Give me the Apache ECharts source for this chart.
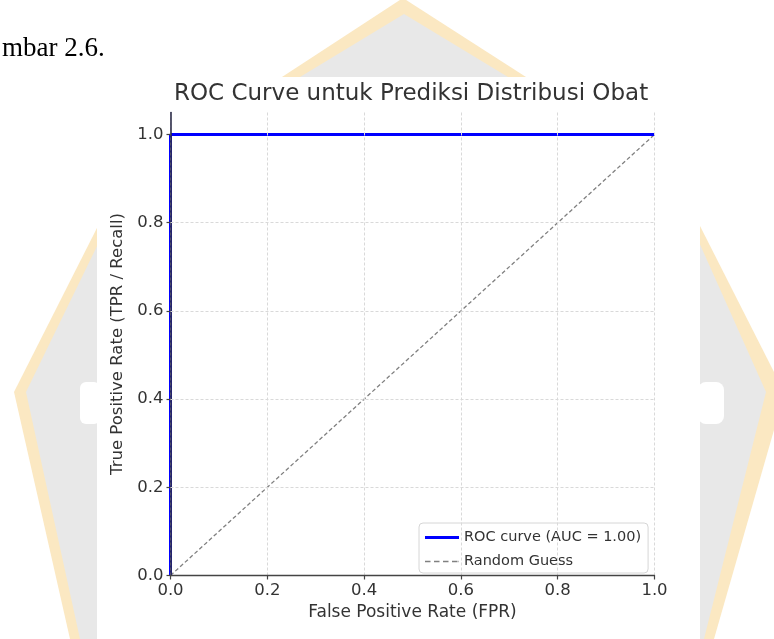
<!DOCTYPE html>
<html>
<head>
<meta charset="utf-8">
<title>ROC Curve</title>
<script src="https://cdn.jsdelivr.net/npm/echarts@6/dist/echarts.min.js"></script>
<style>
  html, body { margin: 0; padding: 0; background: #fff; }
  #chart { width: 774px; height: 639px; }
</style>
</head>
<body>
<div id="chart"></div>
<script>
// ROC curve points (AUC = 1.00)
const fprRoc = [0, 0, 1]
const tprRoc = [0, 1, 1]
// diagonal baseline
const fprRandom = [0, 1]
const tprRandom = [0, 1]
const yTicks = [0, 0.2, 0.4, 0.6, 0.8, 1.0]
const legendNames = ['ROC curve (AUC = 1.00)', 'Random Guess']

const font = 'DejaVu Sans'
const chart = echarts.init(document.getElementById('chart'), null, { renderer: 'canvas' })

// faint watermark of the document page behind the figure
const orange = '#fbe8c2'
const grey = '#e8e8e8'
const watermark = [
  { type: 'polygon', z: -20, shape: { points: [[403, -2], [282, 77], [526, 77]] }, style: { fill: orange } },
  { type: 'polygon', z: -19, shape: { points: [[404, 14], [300, 77], [508, 77]] }, style: { fill: grey } },
  { type: 'polygon', z: -20, shape: { points: [[100, 222], [14, 392], [70, 639], [100, 639]] }, style: { fill: orange } },
  { type: 'polygon', z: -19, shape: { points: [[100, 240], [26, 392], [80, 639], [100, 639]] }, style: { fill: grey } },
  { type: 'rect', z: -18, shape: { x: 80, y: 382, width: 20, height: 42, r: 6 }, style: { fill: '#fff' } },
  { type: 'polygon', z: -20, shape: { points: [[698, 222], [774, 372], [774, 430], [714, 639], [698, 639]] }, style: { fill: orange } },
  { type: 'polygon', z: -19, shape: { points: [[698, 240], [766, 392], [704, 639], [698, 639]] }, style: { fill: grey } },
  { type: 'rect', z: -18, shape: { x: 698, y: 382, width: 26, height: 42, r: 8 }, style: { fill: '#fff' } },
  // the figure itself sits on a white panel
  { type: 'rect', z: -10, shape: { x: 97, y: 77, width: 603, height: 570 }, style: { fill: '#fff' } },
  {
    type: 'text', z: -5, left: 2, top: 35,
    style: { text: 'mbar 2.6.', fill: '#000', font: '27px "Liberation Serif"' }
  }
]

chart.setOption({
  animation: false,
  backgroundColor: '#fff',
  textStyle: { fontFamily: font },
  graphic: watermark,
  title: {
    text: 'ROC Curve untuk Prediksi Distribusi Obat',
    left: 174,
    top: 83,
    padding: 0,
    textStyle: { fontFamily: font, fontSize: 23, fontWeight: 'normal', color: '#333' }
  },
  grid: {
    left: 170.5,
    right: 119.5,
    top: 112.5,
    bottom: 63.5
  },
  legend: {
    data: [
      { name: legendNames[0], icon: 'path://M0,0h34v3.2h-34z' },
      { name: legendNames[1], icon: 'path://M0,0h5.5v1.3h-5.5z M9,0h5.5v1.3h-5.5z M18,0h5.5v1.3h-5.5z M27,0h5.5v1.3h-5.5z M33.5,0h0.5v1.3h-0.5z' }
    ],
    orient: 'vertical',
    left: 419,
    top: 523,
    itemWidth: 34,
    itemHeight: 14,
    itemGap: 9,
    padding: [7, 7, 4, 6],
    itemStyle: { borderWidth: 0 },
    backgroundColor: 'rgba(255,255,255,0.85)',
    borderColor: '#d6d6d6',
    borderWidth: 1,
    borderRadius: 4,
    textStyle: { fontFamily: font, fontSize: 14.5, color: '#333' }
  },
  xAxis: {
    type: 'value',
    min: 0,
    max: 1,
    interval: 0.2,
    z: 4,
    name: 'False Positive Rate (FPR)',
    nameLocation: 'middle',
    nameGap: 25,
    nameTextStyle: { fontFamily: font, fontSize: 17, color: '#333' },
    axisLine: { show: true, onZero: false, lineStyle: { color: '#444', width: 1.3 } },
    axisTick: { show: true, inside: false, length: 4, lineStyle: { color: '#444', width: 1.2 } },
    axisLabel: {
      margin: 7, fontFamily: font, fontSize: 16.5, color: '#333',
      formatter: v => v.toFixed(1)
    },
    splitLine: { show: true, lineStyle: { color: '#d9d9d9', width: 1, type: [3, 2] } }
  },
  yAxis: {
    type: 'value',
    min: 0,
    max: 1.05,
    interval: 0.2,
    z: 4,
    name: 'True Positive Rate (TPR / Recall)',
    nameLocation: 'middle',
    nameGap: 36,
    nameTextStyle: { fontFamily: font, fontSize: 16.5, color: '#333' },
    axisLine: { show: true, onZero: false, lineStyle: { color: '#2e2e4a', width: 1.6 } },
    axisTick: { show: true, inside: false, length: 4, customValues: yTicks, lineStyle: { color: '#444', width: 1.2 } },
    axisLabel: {
      margin: 7, fontFamily: font, fontSize: 16.5, color: '#333',
      customValues: yTicks,
      formatter: v => (v > 1.001 ? '' : v.toFixed(1))
    },
    splitLine: { show: false }
  },
  series: [
    {
      // horizontal grid lines (the one at 1.0 is hidden under the ROC line)
      type: 'line',
      data: [],
      silent: true,
      z: 0,
      markLine: {
        silent: true,
        symbol: 'none',
        label: { show: false },
        lineStyle: { color: '#d9d9d9', width: 1, type: [3, 2] },
        data: yTicks.slice(1, -1).map(v => ({ yAxis: v }))
      }
    },
    {
      name: legendNames[1],
      type: 'line',
      symbol: 'none',
      z: 1,
      data: fprRandom.map((x, i) => [x, tprRandom[i]]),
      lineStyle: { color: '#808080', width: 1.3, type: [4, 2.5] },
      itemStyle: { color: '#808080' }
    },
    {
      name: legendNames[0],
      type: 'line',
      symbol: 'none',
      z: 1,
      data: fprRoc.map((x, i) => [x, tprRoc[i]]),
      lineStyle: { color: '#0000ff', width: 3 },
      itemStyle: { color: '#0000ff' }
    }
  ]
})
</script>
</body>
</html>
